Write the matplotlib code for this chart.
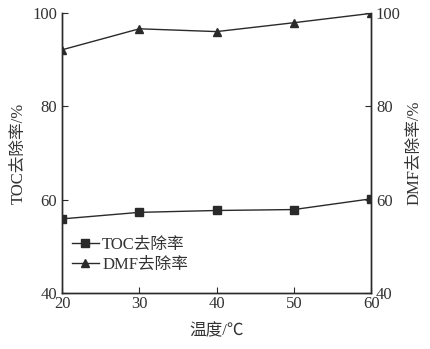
import matplotlib
matplotlib.use("Agg")
import matplotlib.pyplot as plt

plt.rcParams['font.family'] = ['Liberation Serif', 'Noto Sans CJK SC']

temps = [20, 30, 40, 50, 60]
toc_removal = [55.9, 57.3, 57.7, 57.9, 60.2]
dmf_removal = [92.1, 96.6, 96.0, 97.9, 99.9]
xticks = [20, 30, 40, 50, 60]
yticks = [40, 60, 80, 100]

fig = plt.figure(figsize=(4.31, 3.49), dpi=100)
ax = fig.add_axes([0.144, 0.160, 0.717, 0.803])
ax2 = ax.twinx()

c = '#2a2a2a'
l1, = ax.plot(temps, toc_removal, '-s', color=c, lw=1.0, ms=6, label='TOC去除率')
l2, = ax2.plot(temps, dmf_removal, '-^', color=c, lw=1.0, ms=6, label='DMF去除率')

for a in (ax, ax2):
    a.set_ylim(40, 100)
    a.set_yticks(yticks)
    a.spines['top'].set_visible(False)
    for s in a.spines.values():
        s.set_color(c)
        s.set_linewidth(1.0)
ax.set_xlim(20, 60)
ax.set_xticks(xticks)
ax.tick_params(axis='both', direction='in', length=4, color=c, labelsize=12, labelcolor='#333333')
ax2.tick_params(axis='y', direction='in', length=4, color=c, labelsize=12, labelcolor='#333333')
ax.tick_params(axis='x', pad=2)

ax.set_xlabel('温度/℃', fontsize=12, color='#333333', labelpad=8)
ax.set_ylabel('TOC去除率/%', fontsize=12, color='#333333', labelpad=4)
ax2.set_ylabel('DMF去除率/%', fontsize=12, color='#333333', rotation=90, labelpad=4)

leg = ax.legend(handles=[l1, l2], loc='upper left', bbox_to_anchor=(0.0, 0.235),
                frameon=False, fontsize=12, handlelength=1.6, handletextpad=0.2,
                labelspacing=0.2, borderaxespad=0.2)
for t in leg.get_texts():
    t.set_color('#333333')

fig.savefig('out.png', dpi=100)
